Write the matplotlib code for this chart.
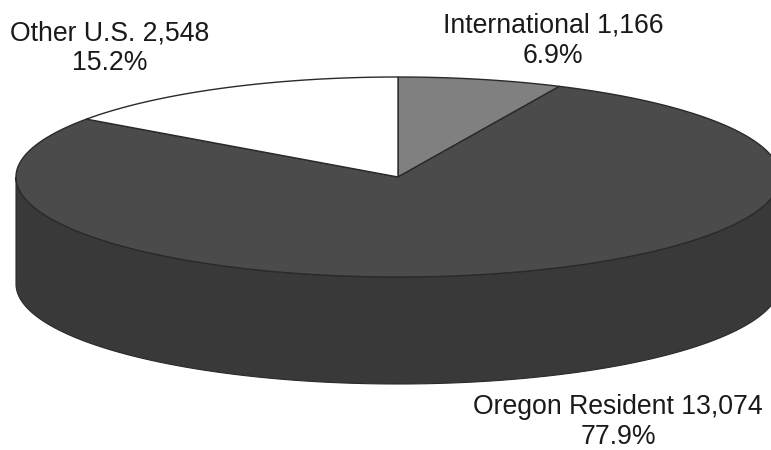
import numpy as np
import matplotlib
matplotlib.use("Agg")
import matplotlib.pyplot as plt
from matplotlib.patches import Polygon

categories = ["International", "Oregon Resident", "Other U.S."]
counts = [1166, 13074, 2548]
shares = [6.9, 77.9, 15.2]
top_colors = ["#808080", "#4b4b4b", "#ffffff"]
side_color = "#393939"

W, H = 771, 450
CX, CY, RX, RY, DEPTH = 398, 177, 382, 100, 107

fig = plt.figure(figsize=(W / 100, H / 100), dpi=100)
ax = fig.add_axes([0, 0, 1, 1])
ax.set_xlim(0, W)
ax.set_ylim(H, 0)
ax.axis("off")


def rim(a0, a1, dy=0):
    t = np.radians(np.linspace(a0, a1, 300))
    return np.column_stack([CX + RX * np.sin(t), CY + dy - RY * np.cos(t)])


# Side wall (visible lower half of the rim)
upper = rim(90, 270)
lower = rim(90, 270, DEPTH)[::-1]
ax.add_patch(Polygon(np.vstack([upper, lower]), closed=True, fc=side_color,
                     ec="#2a2a2a", lw=0.8, zorder=1))

# Top face wedges, clockwise from 12 o'clock
total = sum(counts)
start = 0.0
for value, color in zip(counts, top_colors):
    end = start + 360.0 * value / total
    pts = np.vstack([[CX, CY], rim(start, end)])
    ax.add_patch(Polygon(pts, closed=True, fc=color, ec="#2a2a2a", lw=1.0, zorder=2))
    start = end

label_pos = [(553, 41), (618, 422), (110, 48)]
for name, c, s, (x, y) in zip(categories, counts, shares, label_pos):
    ax.text(x, y, f"{name} {c:,}\n{s:.1f}%", ha="center", va="center",
            fontsize=19.2, color="#1a1a1a", linespacing=1.2,
            family="Liberation Sans")

fig.savefig("out.png", dpi=100)
